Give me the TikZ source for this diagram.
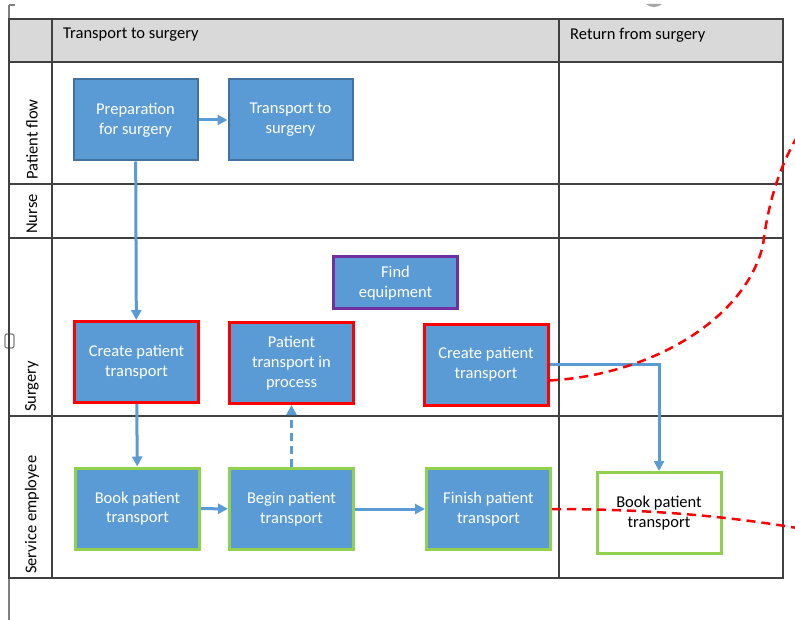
\documentclass[tikz,border=0pt]{standalone}
\usepackage{fontspec}
\setmainfont{Carlito}
\usepackage{xcolor}
\usetikzlibrary{arrows.meta}

\definecolor{boxblue}{RGB}{91,155,213}
\definecolor{boxedge}{RGB}{65,113,156}
\definecolor{flowblue}{RGB}{91,155,213}
\definecolor{hdrgray}{RGB}{217,217,217}
\definecolor{gridgray}{RGB}{64,64,64}
\definecolor{redframe}{RGB}{255,0,0}
\definecolor{greenframe}{RGB}{146,208,80}
\definecolor{purpleframe}{RGB}{112,48,160}

\tikzset{
  grid line/.style={draw=gridgray, line width=1.6},
  task/.style={fill=boxblue, draw=boxedge, line width=2, text=white, align=center,
    minimum width=124, minimum height=81, inner sep=0,
    font=\fontsize{16.5}{19.8}\selectfont},
  red task/.style={task, draw=redframe, line width=3},
  green task/.style={task, draw=greenframe, line width=3},
  purple task/.style={task, draw=purpleframe, line width=3, minimum height=52},
  open task/.style={green task, fill=white, text=black},
  lane label/.style={rotate=90, anchor=west, inner sep=2, font=\fontsize{16.5}{19.8}\selectfont},
  phase label/.style={anchor=west, inner sep=2, font=\fontsize{16.5}{19.8}\selectfont},
  flow/.style={draw=flowblue, line width=3, -{Triangle[length=10,width=10]}},
  loose flow/.style={flow, dash pattern=on 8 off 5},
  cut line/.style={draw=redframe, line width=2.5, dash pattern=on 9 off 6},
}

\begin{document}
\begin{tikzpicture}[x=1pt,y=1pt,yscale=-1,xscale=1]
\useasboundingbox (0,0) rectangle (795,620);

%Page edge marks
\draw [gray, line width=1.2] (9,5) -- (9,334) (9,348) -- (9,620) (9,5) -- (15,5);
\draw [gray, line width=1.2, fill=white, rounded corners=2] (5,334) rectangle (14,348);
\fill [gray!70] (646,4) .. controls (650,8) and (658,8) .. (662,4) -- cycle;

%Table: header row
\fill [hdrgray] (9,19) rectangle (783,62);
%Table: rows and columns
\draw [grid line] (9,19) rectangle (783,578);
\draw [grid line] (9,62) -- (783,62);
\draw [grid line] (9,184) -- (783,184);
\draw [grid line] (9,238) -- (783,238);
\draw [grid line] (9,416) -- (783,416);
\draw [grid line] (52,19) -- (52,578);
\draw [grid line] (559,19) -- (559,578);

% Text Node
\node [phase label] (hdrto) at (61,35) {Transport to surgery};
% Text Node
\node [phase label] (hdrfrom) at (568,35) {Return from surgery};
% Text Node
\node [lane label] (lanepatient) at (32,182) {Patient flow};
% Text Node
\node [lane label] (lanenurse) at (32,236) {Nurse};
% Text Node
\node [lane label] (lanesurgery) at (32,414) {Surgery};
% Text Node
\node [lane label] (laneservice) at (32,576) {Service employee};

%Tasks: patient flow
\node [task] (prep) at (135.5,120) {Preparation\\for surgery};
\node [task] (transport) at (290.5,120) {Transport to\\surgery};
%Tasks: surgery
\node [purple task] (findequip) at (395.5,283) {Find\\equipment};
\node [red task] (create) at (136.5,362) {Create patient\\transport};
\node [red task] (inprocess) at (291.5,363) {Patient\\transport in\\process};
\node [red task] (createret) at (486,364.5) {Create patient\\transport};
%Tasks: service employee
\node [green task] (book) at (137.5,508.5) {Book patient\\transport};
\node [green task] (begin) at (291.5,509) {Begin patient\\transport};
\node [green task] (finish) at (488.5,509) {Finish patient\\transport};
\node [open task] (bookret) at (659,513) {Book patient\\transport};

%Connectors
\draw [flow] (prep) -- (transport);
\draw [flow] (prep) -- (create);
\draw [flow] (create) -- (book);
\draw [flow] (book) -- (begin);
\draw [loose flow] (begin) -- (inprocess);
\draw [flow] (begin) -- (finish);
\draw [flow] (createret.east) -| (bookret.north);

%Red cut lines
\coordinate (cutup) at (797,137);
\coordinate (cutright) at (797,528);
\draw [cut line] ([yshift=16pt]createret.east) .. controls (650,375) and (745,320) .. (763,245)
  .. controls (768,205) and (778,170) .. (cutup);
\draw [cut line] (finish.east) .. controls (640,509) and (720,515) .. (cutright);

\end{tikzpicture}
\end{document}
